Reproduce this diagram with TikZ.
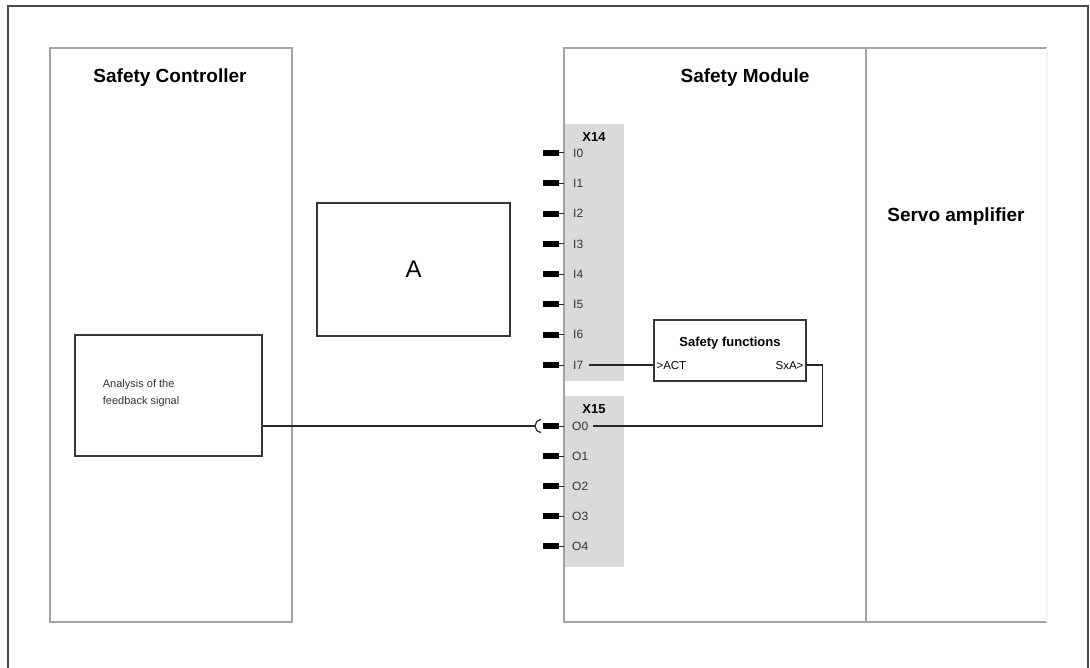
\documentclass[tikz,border=0pt]{standalone}
\usepackage{fontspec}
\setmainfont{Liberation Sans}
\usetikzlibrary{positioning}
\definecolor{Frame}{HTML}{4A4A4A}
\definecolor{PanelLine}{HTML}{A3A3A3}
\definecolor{Shade}{HTML}{DADADA}
\definecolor{BoxLine}{HTML}{383838}
\definecolor{Wire}{HTML}{262626}
\tikzset{
  panel/.style={draw=PanelLine, line width=1.2pt},
  block/.style={draw=BoxLine, line width=1.3pt, fill=white, inner sep=0pt},
  header/.style={font=\fontsize{19}{22}\selectfont\bfseries},
  connlbl/.style={font=\fontsize{13}{15}\selectfont\bfseries},
  pinlbl/.style={font=\fontsize{12}{14}\selectfont, anchor=west, inner sep=0pt, text=black!80},
  plug/.style={fill=black, minimum width=16pt, minimum height=6pt, inner sep=0pt},
  wire/.style={draw=Wire, line width=1.2pt}
}
\begin{document}
\begin{tikzpicture}[x=1pt,y=-1pt]
  \useasboundingbox (0,0) rectangle (1090,668);
  % outer frame, open at the bottom
  \draw[Frame, line width=1.3pt] (8,668) -- (8,6) -- (1088,6) -- (1088,668);
  % panels
  \draw[panel] (50,48) rectangle (292,622);
  \draw[panel] (564,48) rectangle (866,622);
  \draw[panel] (866,622) -- (1047,622);
  \draw[panel] (866,48) -- (1047,48);
  \draw[PanelLine!12, line width=1.2pt] (1047,48) -- (1047,622);
  \node[header] (ctrl) at (170,78) {Safety Controller};
  \node[header] (mod) at (745,78) {Safety Module};
  \node[header] (servo) at (956,217) {Servo amplifier};
  % connector strips
  \fill[Shade] (565,124) rectangle (624,381);
  \fill[Shade] (565,396) rectangle (624,567);
  \node[connlbl] (x14) at (594,137) {X14};
  \node[connlbl] (x15) at (594,409) {X15};
  \foreach \k in {0,...,7}{
    \pgfmathsetmacro\py{153+30.3*\k}
    \node[plug] (pI\k) at (551,\py) {};
    \draw[Wire, line width=1pt] (pI\k.east) -- (564,\py);
    \node[pinlbl] (lI\k) at (573,\py) {I\k};
  }
  \foreach \k in {0,...,4}{
    \pgfmathsetmacro\py{426+30*\k}
    \node[plug] (pO\k) at (551,\py) {};
    \draw[Wire, line width=1pt] (pO\k.east) -- (564,\py);
    \node[pinlbl] (lO\k) at (572,\py) {O\k};
  }
  % blocks
  \node[block, minimum width=193pt, minimum height=133pt,
        font=\fontsize{24}{28}\selectfont] (boxA) at (413.5,269.5) {A};
  \node[block, minimum width=187pt, minimum height=121pt] (an) at (168.5,395.5) {};
  \node[font=\fontsize{11}{17}\selectfont, align=left, anchor=west, text=black!80]
    at ([xshift=25pt,yshift=2pt]an.west) {Analysis of the\\feedback signal};
  \node[block, minimum width=152pt, minimum height=61pt] (sf) at (730,350.5) {};
  \node[connlbl] at (730,343) {Safety functions};
  \node[font=\fontsize{11.5}{13}\selectfont, anchor=west, inner sep=3pt]
    (act) at (sf.west |- lI7) {>ACT};
  \node[font=\fontsize{11.5}{13}\selectfont, anchor=east, inner sep=3pt]
    (sxa) at (sf.east |- lI7) {SxA>};
  % wiring
  \draw[wire] ([xshift=6pt]lI7.east) -- (sf.west |- lI7);
  \draw[wire] (sf.east |- lI7) -- ++(16,0) |- ([xshift=5pt]lO0.east);
  \coordinate (sock) at (535,426);
  \draw[wire] (an.east |- pO0) -- (sock);
  \draw[wire] (541,419.5) .. controls (533,421) and (533,431) .. (541,432.5);
\end{tikzpicture}
\end{document}
